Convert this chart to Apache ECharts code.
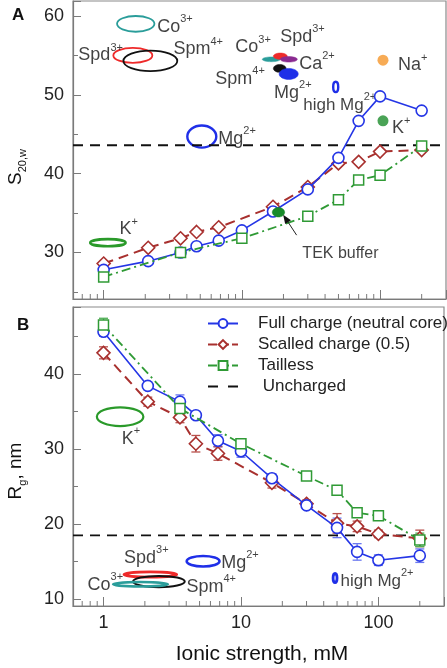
<!DOCTYPE html>
<html><head><meta charset="utf-8">
<script src="https://cdn.jsdelivr.net/npm/echarts@6/dist/echarts.min.js"></script>
<style>html,body{margin:0;padding:0;background:#fff}#c{width:447px;height:668px}</style>
</head><body><div id="c"></div>
<script>
// ---------- data ----------
const ionicStrength = [1, 2.1, 3.6, 4.7, 6.8, 10, 16.8, 30, 50, 70, 100, 200];
// Panel A: S20,w
const sFull     = [27.8, 28.9, 30.0, 30.8, 31.5, 32.8, 35.2, 38.0, 42.0, 46.7, 49.8, 48.0];
const sScaled   = [28.6, 30.6, 31.8, 32.6, 33.2, null, 35.8, 38.3, 41.3, 41.5, 42.8, 43.0];
const sTailless = [26.9, null, 30.0, null, null, 31.8, null, 34.6, 36.7, 39.2, 39.8, 43.5];
const sUncharged = 43.6;
// Panel B: Rg, nm
const rgFull        = [45.6, 38.4, 36.3, 34.5, 31.1, 29.7, 26.1, 22.5, 19.5, 16.3, 15.2, 15.8];
const rgFullErr     = [0.6, 0.5, 0.9, 0.5, 0.8, 0.8, 0.6, 0.5, 1.3, 1.1, 0.7, 0.9];
const rgScaled      = [42.8, 36.3, 34.2, 30.7, 29.4, null, 25.5, 22.7, 20.1, 19.7, 18.7, 18.1];
const rgScaledErr   = [0.8, 0.6, 0.7, 1.1, 0.9, null, 0.7, 0.5, 1.3, 0.7, 0.5, 1.1];
const rgTailless    = [46.5, null, 35.4, null, null, 30.7, null, 26.4, 24.5, 21.5, 21.1, 17.9];
const rgTaillessErr = [0.9, null, 0.8, null, null, 0.6, null, 0.4, 0.5, 0.5, 0.4, 0.9];
const rgUncharged = 18.5;

// axis ranges and tick labels
const X_MIN = 0.6, X_MAX = 300;
const yRangeA = [24.1, 61.9];
const yRangeB = [9.1, 48.9];
const xTickLabels = [1, 10, 100];
const xMinorTicks = [0.7, 0.8, 0.9, 2, 3, 4, 5, 6, 7, 8, 9, 20, 30, 40, 50, 60, 70, 80, 90, 200];
const yTickLabelsA = [30, 40, 50, 60];
const yTickLabelsB = [10, 20, 30, 40];

// experimental ranges (ion, xLow, xHigh, yLow, yHigh)
const outlineRangesA = [
  ['Co3+', 1.25, 2.33, 58.0, 60.0],
  ['Spd3+', 1.175, 2.25, 54.05, 55.95],
  ['Spm4+', 1.39, 3.41, 53.0, 55.6],
  ['Mg2+', 4.03, 6.53, 43.3, 46.1],
  ['highMg2+', 45.8, 49.8, 50.35, 51.65],
  ['K+', 0.80, 1.44, 30.8, 31.7]
];
const filledRangesA = [
  ['Co3+', 14.05, 18.95, 54.2, 54.8],
  ['Spd3+', 16.9, 21.3, 54.5, 55.3],
  ['Ca2+', 18.95, 25.2, 54.15, 54.85],
  ['Spm4+', 16.9, 20.9, 52.85, 53.85],
  ['Mg2+', 18.6, 25.6, 51.95, 53.35]
];
const tekRangeA = [['TEK', 16.6, 20.4, 34.5, 35.7]];
const pointsA = [['Na+', 105, 54.4], ['K+', 105, 46.7]];
const outlineRangesB = [
  ['K+', 0.895, 1.95, 33.05, 35.55],
  ['Mg2+', 4.03, 6.98, 14.35, 15.75],
  ['Spd3+', 1.41, 3.41, 12.95, 13.65],
  ['Spm4+', 1.64, 3.90, 11.6, 13.1],
  ['Co3+', 1.175, 2.94, 11.7, 12.3],
  ['highMg2+', 46.8, 50.0, 12.2, 13.45]
];
// annotation labels (base, superscript, x, y)
const labelsA = [
  ['Co', '3+', 2.44, 58.9], ['Spd', '3+', 0.656, 55.3], ['Spm', '4+', 3.2, 56.0],
  ['Co', '3+', 8.96, 56.3], ['Spd', '3+', 18.95, 57.6], ['Ca', '2+', 26.0, 54.2],
  ['Spm', '4+', 6.42, 52.3], ['Mg', '2+', 17.1, 50.5], ['Na', '+', 135, 54.0],
  ['high Mg', '2+', 27.8, 49.0], ['K', '+', 122, 46.0], ['Mg', '2+', 6.75, 44.7],
  ['K', '+', 1.30, 33.2], ['TEK buffer', '', 27.4, 30.3]
];
const labelsB = [
  ['K', '+', 1.36, 31.6], ['Mg', '2+', 7.18, 15.1], ['Spd', '3+', 1.41, 15.8],
  ['Spm', '4+', 4.01, 11.9], ['Co', '3+', 0.766, 12.2], ['high Mg', '2+', 53.0, 12.7]
];
const tekArrow = [[24.9, 32.2, 19.9, 34.8]];

// ---------- styles ----------
const FONT = '"Liberation Sans", Arial, Helvetica, sans-serif';
const C_BLUE = '#2536e6', C_RED = '#a8302e', C_GREEN = '#2f9a35';
const ionColor = {
  'Co3+': '#2a9d9a', 'Spd3+': '#ee2a2a', 'Spm4+': '#111111', 'Mg2+': '#1f2fe8',
  'highMg2+': '#1f2fe8', 'K+': '#2a9a2a', 'Ca2+': '#8a2a90', 'TEK': '#178a2a', 'Na+': '#f5962a'
};
const ionWidth = { 'Co3+': 1.8, 'Spd3+': 1.8, 'Spm4+': 1.8, 'Mg2+': 2.4, 'highMg2+': 2.4, 'K+': 2.6 };
const ionWidthB = { 'Co3+': 2.6, 'Spd3+': 2.8, 'Spm4+': 2, 'Mg2+': 2.6, 'highMg2+': 2.8, 'K+': 2.2 };
const pointColorK = '#1d8c2c';
const labelFontSize = { 'TEK buffer': 16, 'high Mg': 17 };

function pairs(ys) {
  const out = [];
  ys.forEach((v, i) => { if (v !== null) out.push([ionicStrength[i], v]); });
  return out;
}
function errTriples(ys, es) {
  const out = [];
  ys.forEach((v, i) => { if (v !== null && es[i] !== null) out.push([ionicStrength[i], v, es[i]]); });
  return out;
}

const grids = [
  { left: 73, right: 1, top: 1, height: 298 },
  { left: 73, right: 1, top: 307, height: 299 }
].map(g => Object.assign(g, { show: true, borderColor: '#8a8a8a', borderWidth: 1.2, containLabel: false }));

function xAxisCfg(idx, showLabels) {
  return {
    type: 'log', logBase: 10, gridIndex: idx, min: X_MIN, max: X_MAX,
    axisLine: { show: true, lineStyle: { color: '#7a7a7a', width: 1.2 } },
    axisTick: { show: true, inside: true, length: 9, lineStyle: { color: '#7a7a7a', width: 1 } },
    axisLabel: {
      show: showLabels, fontSize: 18, color: '#222', margin: 8, fontFamily: FONT,
      formatter: v => (xTickLabels.some(t => Math.abs(t - v) < 1e-6) ? String(Math.round(v)) : '')
    },
    splitLine: { show: false }
  };
}
function yAxisCfg(idx, range, labels) {
  return {
    type: 'value', gridIndex: idx, min: range[0], max: range[1], splitNumber: 4,
    axisLine: { show: true, lineStyle: { color: '#7a7a7a', width: 1.2 } },
    axisTick: { show: true, inside: true, length: 8, lineStyle: { color: '#7a7a7a', width: 1 } },
    minorTick: { show: true, splitNumber: 2, length: 5, lineStyle: { color: '#7a7a7a', width: 1 } },
    axisLabel: {
      fontSize: 18, color: '#222', margin: 9, fontFamily: FONT,
      formatter: v => (labels.some(t => Math.abs(t - v) < 1e-6) ? String(Math.round(v)) : '')
    },
    splitLine: { show: false }
  };
}

function minorTickSeries(idx, yMin) {
  return {
    type: 'custom', xAxisIndex: idx, yAxisIndex: idx, silent: true, clip: false, z: 5,
    data: xMinorTicks.map(v => [v, yMin]), encode: { x: 0, y: 1 },
    renderItem: (params, api) => {
      const cs = params.coordSys;
      const px = api.coord([api.value(0), api.value(1)])[0];
      const b = cs.y + cs.height;
      return { type: 'line', shape: { x1: px, y1: b, x2: px, y2: b - 5 }, style: { stroke: '#7a7a7a', lineWidth: 1 } };
    }
  };
}

function ellipseSeries(idx, ranges, filled, widths, z) {
  return {
    type: 'custom', xAxisIndex: idx, yAxisIndex: idx, silent: true, z: z || 1,
    data: ranges.map(r => [r[1], r[2], r[3], r[4]]), encode: { x: [0, 1], y: [2, 3] },
    renderItem: (params, api) => {
      const ion = ranges[params.dataIndex][0];
      const a = api.coord([api.value(0), api.value(2)]);
      const b = api.coord([api.value(1), api.value(3)]);
      const shape = { cx: (a[0] + b[0]) / 2, cy: (a[1] + b[1]) / 2, rx: Math.abs(b[0] - a[0]) / 2, ry: Math.abs(b[1] - a[1]) / 2 };
      const style = filled ? { fill: ionColor[ion], stroke: ionColor[ion], lineWidth: 0.5 }
                           : { fill: 'none', stroke: ionColor[ion], lineWidth: widths[ion] };
      return { type: 'ellipse', shape, style };
    }
  };
}

function labelSeries(idx, labels) {
  return {
    type: 'scatter', xAxisIndex: idx, yAxisIndex: idx, silent: true, symbolSize: 0, z: 3,
    data: labels.map(l => ({ value: [l[2], l[3]], base: l[0], sup: l[1] })),
    label: {
      show: true, position: 'right', distance: 0, color: '#111', fontFamily: FONT,
      formatter: p => {
        const key = labelFontSize[p.data.base] === 16 ? 't' : (labelFontSize[p.data.base] === 17 ? 'h' : 'n');
        return p.data.sup ? `{${key}|${p.data.base}}{s|${p.data.sup}}` : `{${key}|${p.data.base}}`;
      },
      rich: {
        n: { fontSize: 18, lineHeight: 22, fontFamily: FONT, color: '#111', verticalAlign: 'bottom' },
        h: { fontSize: 17, lineHeight: 22, fontFamily: FONT, color: '#111', verticalAlign: 'bottom' },
        t: { fontSize: 16, lineHeight: 22, fontFamily: FONT, color: '#111', verticalAlign: 'bottom' },
        s: { fontSize: 11, lineHeight: 11, fontFamily: FONT, color: '#111', verticalAlign: 'top' }
      }
    }
  };
}

function errSeries(idx, triples, color) {
  return {
    type: 'custom', xAxisIndex: idx, yAxisIndex: idx, silent: true, z: 2,
    data: triples.map(t => [t[0], t[1] - t[2], t[1] + t[2]]), encode: { x: 0, y: [1, 2] },
    renderItem: (params, api) => {
      const lo = api.coord([api.value(0), api.value(1)]);
      const hi = api.coord([api.value(0), api.value(2)]);
      const w = 4.5;
      const st = { stroke: color, lineWidth: 1.3 };
      return { type: 'group', children: [
        { type: 'line', shape: { x1: lo[0], y1: lo[1], x2: hi[0], y2: hi[1] }, style: st },
        { type: 'line', shape: { x1: lo[0] - w, y1: lo[1], x2: lo[0] + w, y2: lo[1] }, style: st },
        { type: 'line', shape: { x1: hi[0] - w, y1: hi[1], x2: hi[0] + w, y2: hi[1] }, style: st }
      ] };
    }
  };
}

const NAMES = ['Full charge (neutral core)', 'Scalled charge (0.5)', 'Tailless', 'Uncharged'];
function dataSeries(idx, full, scaled, tailless, unch) {
  const common = { type: 'line', xAxisIndex: idx, yAxisIndex: idx, silent: true, connectNulls: true };
  return [
    Object.assign({}, common, { name: NAMES[3], data: [[X_MIN, unch], [X_MAX, unch]], symbol: 'none', z: 2,
      lineStyle: { color: '#111', width: 1.8, type: [10, 7] }, itemStyle: { color: '#111' }, color: '#111' }),
    Object.assign({}, common, { name: NAMES[1], z: 4, data: pairs(scaled), symbol: 'diamond', symbolSize: 13,
      itemStyle: { color: '#fff', borderColor: C_RED, borderWidth: 1.6 },
      lineStyle: { color: C_RED, width: 2, type: [10, 6] }, color: C_RED }),
    Object.assign({}, common, { name: NAMES[0], z: 5, data: pairs(full), symbol: 'circle', symbolSize: 11,
      itemStyle: { color: '#fff', borderColor: C_BLUE, borderWidth: 1.6 },
      lineStyle: { color: C_BLUE, width: 1.6, type: 'solid' }, color: C_BLUE }),
    Object.assign({}, common, { name: NAMES[2], z: 6, data: pairs(tailless), symbol: 'rect', symbolSize: 10,
      itemStyle: { color: '#fff', borderColor: C_GREEN, borderWidth: 1.5 },
      lineStyle: { color: C_GREEN, width: 1.8, type: [9, 4, 2, 4] }, color: C_GREEN })
  ];
}

const series = [];
// panel A
series.push(ellipseSeries(0, outlineRangesA, false, ionWidth));
series.push(ellipseSeries(0, filledRangesA, true, ionWidth));
series.push({
  type: 'scatter', xAxisIndex: 0, yAxisIndex: 0, silent: true, z: 2,
  data: pointsA.map(p => ({ value: [p[1], p[2]], itemStyle: { color: p[0] === 'Na+' ? ionColor['Na+'] : pointColorK } })),
  symbol: 'circle', symbolSize: 11
});
series.push(labelSeries(0, labelsA));
series.push(...dataSeries(0, sFull, sScaled, sTailless, sUncharged));
series.push(ellipseSeries(0, tekRangeA, true, ionWidth, 8));
series.push({
  type: 'custom', xAxisIndex: 0, yAxisIndex: 0, silent: true, z: 9,
  data: tekArrow, encode: { x: [0, 2], y: [1, 3] },
  renderItem: (params, api) => {
    const s = api.coord([api.value(0), api.value(1)]);
    const e = api.coord([api.value(2), api.value(3)]);
    const ang = Math.atan2(e[1] - s[1], e[0] - s[0]);
    const L = 9, W = 3.5;
    const bx = e[0] - L * Math.cos(ang), by = e[1] - L * Math.sin(ang);
    const nx = -Math.sin(ang) * W, ny = Math.cos(ang) * W;
    return { type: 'group', children: [
      { type: 'line', shape: { x1: s[0], y1: s[1], x2: bx, y2: by }, style: { stroke: '#222', lineWidth: 1 } },
      { type: 'polygon', shape: { points: [[e[0], e[1]], [bx + nx, by + ny], [bx - nx, by - ny]] }, style: { fill: '#111' } }
    ] };
  }
});
series.push(minorTickSeries(0, yRangeA[0]));
// panel B
series.push(ellipseSeries(1, outlineRangesB, false, ionWidthB));
series.push(labelSeries(1, labelsB));
series.push(errSeries(1, errTriples(rgFull, rgFullErr), '#6b78f0'));
series.push(errSeries(1, errTriples(rgScaled, rgScaledErr), '#b8504c'));
series.push(errSeries(1, errTriples(rgTailless, rgTaillessErr), '#4fae55'));
series.push(...dataSeries(1, rgFull, rgScaled, rgTailless, rgUncharged));
series.push(minorTickSeries(1, yRangeB[0]));

const chart = echarts.init(document.getElementById('c'), null, { renderer: 'canvas' });
chart.setOption({
  animation: false,
  backgroundColor: '#fff',
  textStyle: { fontFamily: FONT },
  grid: grids,
  xAxis: [xAxisCfg(0, false), xAxisCfg(1, true)],
  yAxis: [yAxisCfg(0, yRangeA, yTickLabelsA), yAxisCfg(1, yRangeB, yTickLabelsB)],
  legend: {
    orient: 'vertical', left: 207, top: 315, padding: 0, itemWidth: 30, itemHeight: 11, itemGap: 4,
    selectedMode: false,
    data: [
      { name: NAMES[0] },
      { name: NAMES[1], lineStyle: { type: [9, 3], width: 2 } },
      { name: NAMES[2], lineStyle: { type: [9, 3], width: 1.8 } },
      { name: NAMES[3], itemStyle: { opacity: 0 }, lineStyle: { type: [10, 10], width: 2, color: '#111' } }
    ],
    formatter: n => (n === 'Uncharged' ? ' Uncharged' : n),
    textStyle: { fontSize: 17, lineHeight: 17, color: '#222', fontFamily: FONT, padding: [0, 0, 0, 15] }
  },
  graphic: [
    { type: 'text', left: 12, top: 7, style: { text: 'A', font: 'bold 17px ' + FONT, fill: '#111' } },
    { type: 'text', left: 17, top: 317, style: { text: 'B', font: 'bold 17px ' + FONT, fill: '#111' } },
    { type: 'text', x: 17, y: 167, rotation: Math.PI / 2,
      style: { text: '{m|S}{s|20,w}', align: 'center', verticalAlign: 'middle',
        rich: { m: { fontSize: 19, lineHeight: 22, fontFamily: FONT, fill: '#111', verticalAlign: 'top' },
                s: { fontSize: 11, lineHeight: 12, fontFamily: FONT, fill: '#111', verticalAlign: 'bottom' } } } },
    { type: 'text', x: 17, y: 471, rotation: Math.PI / 2,
      style: { text: '{m|R}{s|g}{m|, nm}', align: 'center', verticalAlign: 'middle',
        rich: { m: { fontSize: 19, lineHeight: 22, fontFamily: FONT, fill: '#111', verticalAlign: 'top' },
                s: { fontSize: 11, lineHeight: 12, fontFamily: FONT, fill: '#111', verticalAlign: 'bottom' } } } },
    { type: 'text', x: 262, y: 654, style: { text: 'Ionic strength, mM', font: '21px ' + FONT, fill: '#111', align: 'center', verticalAlign: 'middle' } }
  ],
  series
});
</script></body></html>
